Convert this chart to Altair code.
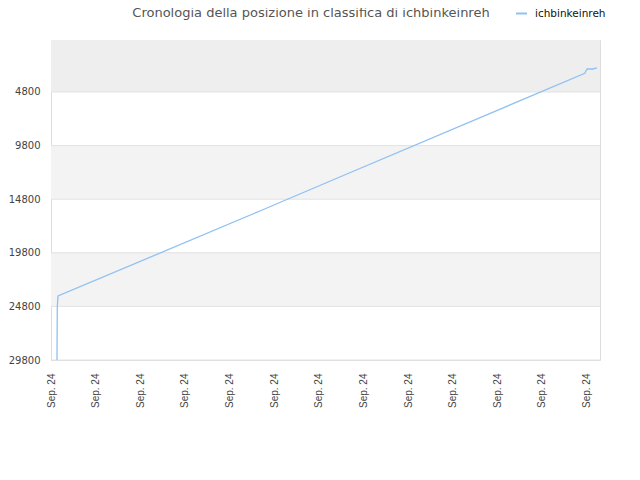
import altair as alt
import pandas as pd

# Series: ichbinkeinreh rank over time (t in tick-interval units)
t_vals = [0.134, 0.141, 0.157, 4.68, 6.47, 11.96, 12.01, 12.14, 12.23]
rank_vals = [29800, 24855, 23830, 15900, 12729, 3056, 2655, 2655, 2560]
series_name = "ichbinkeinreh"
title_text = "Cronologia della posizione in classifica di ichbinkeinreh"

y_ticks = [4800, 9800, 14800, 19800, 24800, 29800]
x_ticks = list(range(13))
x_label = "Sep. 24"

band_lo = [-50, 9800, 19800]
band_hi = [4800, 14800, 24800]
band_col = ["#eeeeee", "#f3f3f3", "#f3f3f3"]

Y_DOMAIN = [-50, 29800]
X_DOMAIN = [0, 12.30]

line_df = pd.DataFrame({"t": t_vals, "rank": rank_vals, "serie": series_name})
band_df = pd.DataFrame({"lo": band_lo, "hi": band_hi, "c": band_col})
grid_df = pd.DataFrame({"v": y_ticks})
title_df = pd.DataFrame({"txt": [title_text]})

xs = alt.Scale(domain=X_DOMAIN, nice=False, zero=False)
ys = alt.Scale(domain=Y_DOMAIN, reverse=True, nice=False, zero=False)

y_axis = alt.Axis(values=y_ticks, format="d", ticks=False, domain=False, grid=False,
                  labelFont="DejaVu Sans", labelFontSize=10,
                  labelColor="#444444", labelPadding=11)

bands = alt.Chart(band_df).mark_rect().encode(
    x=alt.value(0), x2=alt.value(549),
    y=alt.Y("lo:Q", scale=ys, axis=y_axis, title=None),
    y2="hi:Q",
    fill=alt.Fill("c:N", scale=None, legend=None),
)

grid = alt.Chart(grid_df).mark_rule(color="#e2e2e2", strokeWidth=1).encode(
    x=alt.value(0), x2=alt.value(549),
    y=alt.Y("v:Q", scale=ys, axis=y_axis, title=None),
)

line = alt.Chart(line_df).mark_line(strokeWidth=1.3, interpolate="linear").encode(
    x=alt.X("t:Q", scale=xs, title=None,
            axis=alt.Axis(values=x_ticks, labelExpr=f"'{x_label}'", labelAngle=-90,
                          labelAlign="right", labelBaseline="middle",
                          ticks=False, domain=False, grid=False,
                          labelFont="Liberation Sans", labelFontSize=10,
                          labelColor="#444444", labelPadding=13)),
    y=alt.Y("rank:Q", scale=ys, title=None, axis=y_axis),
    color=alt.Color("serie:N", scale=alt.Scale(range=["#8fc1f3"]),
                    legend=alt.Legend(title=None, orient="none", legendX=464, legendY=-33,
                                      symbolType="stroke", symbolSize=120,
                                      symbolStrokeWidth=2, labelOffset=7,
                                      labelFont="DejaVu Sans", labelFontSize=10.5,
                                      labelColor="#111111")),
)

title = alt.Chart(title_df).mark_text(
    font="DejaVu Sans", fontSize=13, color="#555555", align="center",
    baseline="alphabetic",
).encode(x=alt.value(260), y=alt.value(-23.5), text="txt:N")

chart = alt.layer(bands, grid, line, title).resolve_scale(
    fill="independent", color="independent"
).properties(
    width=549, height=320,
    autosize=alt.AutoSizeParams(type="none"),
    padding={"left": 43, "top": 32, "right": 32, "bottom": 112},
).configure_view(stroke="#dddddd", strokeWidth=1).configure(background="white")

chart.save("out.html", embed_options={"renderer": "svg", "actions": False})
